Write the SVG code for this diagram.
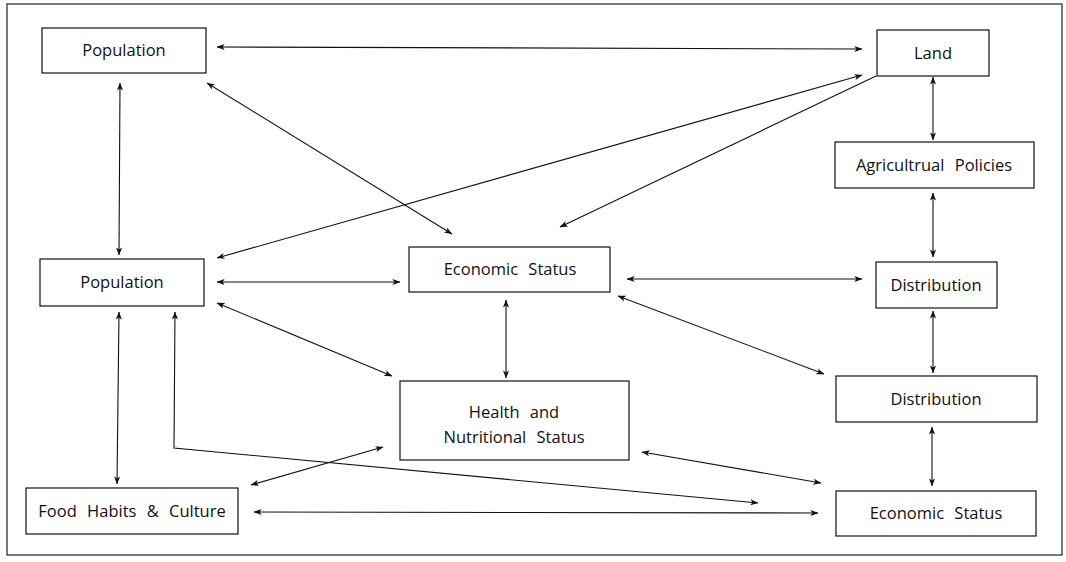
<svg xmlns="http://www.w3.org/2000/svg" width="1066" height="562" viewBox="0 0 1066 562">
<style>
.box{fill:#fff;stroke:#111;stroke-width:1.2}
.lbl{font-family:"Open Sans","Liberation Sans",sans-serif;font-size:16.5px;fill:#111;text-anchor:middle;word-spacing:6px}
.c{fill:none;stroke:#111;stroke-width:1.1}
.frame{fill:none;stroke:#222;stroke-width:1.2}
</style>
<defs>
<marker id="ah" viewBox="0 0 10 10" refX="9.5" refY="5" markerWidth="8" markerHeight="8" markerUnits="userSpaceOnUse" orient="auto-start-reverse">
<path d="M0,1.2 L10,5 L0,8.8 L2.5,5 Z" fill="#111"/>
</marker>
</defs>
<rect class="frame" x="7" y="4" width="1055" height="551"/>
<g id="connectors">
<line class="c" x1="217" y1="47" x2="862" y2="49" marker-start="url(#ah)" marker-end="url(#ah)"/>
<line class="c" x1="207" y1="83" x2="452" y2="234" marker-start="url(#ah)" marker-end="url(#ah)"/>
<line class="c" x1="120" y1="83" x2="119" y2="255" marker-start="url(#ah)" marker-end="url(#ah)"/>
<line class="c" x1="862" y1="75" x2="217" y2="258" marker-start="url(#ah)" marker-end="url(#ah)"/>
<line class="c" x1="876" y1="76" x2="560" y2="227" marker-end="url(#ah)"/>
<line class="c" x1="933" y1="77" x2="933" y2="140" marker-start="url(#ah)" marker-end="url(#ah)"/>
<line class="c" x1="933" y1="193" x2="933" y2="257" marker-start="url(#ah)" marker-end="url(#ah)"/>
<line class="c" x1="217" y1="282" x2="400" y2="282" marker-start="url(#ah)" marker-end="url(#ah)"/>
<line class="c" x1="627" y1="279" x2="862" y2="279" marker-start="url(#ah)" marker-end="url(#ah)"/>
<line class="c" x1="618" y1="296" x2="824" y2="374" marker-start="url(#ah)" marker-end="url(#ah)"/>
<line class="c" x1="506" y1="300" x2="506" y2="378" marker-start="url(#ah)" marker-end="url(#ah)"/>
<line class="c" x1="217" y1="303" x2="392" y2="376" marker-start="url(#ah)" marker-end="url(#ah)"/>
<line class="c" x1="119" y1="312" x2="117" y2="484" marker-start="url(#ah)" marker-end="url(#ah)"/>
<path class="c" d="M175,312 L174,448 L758,503" marker-start="url(#ah)" marker-end="url(#ah)"/>
<line class="c" x1="251" y1="485" x2="383" y2="447" marker-start="url(#ah)" marker-end="url(#ah)"/>
<line class="c" x1="642" y1="452" x2="821" y2="483" marker-start="url(#ah)" marker-end="url(#ah)"/>
<line class="c" x1="254" y1="512" x2="818" y2="513" marker-start="url(#ah)" marker-end="url(#ah)"/>
<line class="c" x1="933" y1="311" x2="933" y2="373" marker-start="url(#ah)" marker-end="url(#ah)"/>
<line class="c" x1="932" y1="427" x2="932" y2="486" marker-start="url(#ah)" marker-end="url(#ah)"/>
</g>
<g id="population-top"><rect class="box" x="42" y="28" width="164" height="45"/><text class="lbl" x="124" y="56">Population</text></g>
<g id="land"><rect class="box" x="877" y="30" width="112" height="46"/><text class="lbl" x="933" y="59">Land</text></g>
<g id="agricultural-policies"><rect class="box" x="835" y="142" width="199" height="46"/><text class="lbl" x="934" y="171">Agricultrual Policies</text></g>
<g id="population-mid"><rect class="box" x="40" y="259" width="164" height="47"/><text class="lbl" x="122" y="288">Population</text></g>
<g id="economic-status-mid"><rect class="box" x="409" y="247" width="201" height="45"/><text class="lbl" x="510" y="275">Economic Status</text></g>
<g id="distribution-upper"><rect class="box" x="876" y="262" width="121" height="46"/><text class="lbl" x="936" y="291">Distribution</text></g>
<g id="distribution-lower"><rect class="box" x="836" y="376" width="201" height="46"/><text class="lbl" x="936" y="405">Distribution</text></g>
<g id="health"><rect class="box" x="400" y="381" width="229" height="79"/><text class="lbl" x="514" y="418">Health and</text><text class="lbl" x="514" y="443">Nutritional Status</text></g>
<g id="food-habits"><rect class="box" x="26" y="488" width="212" height="46"/><text class="lbl" x="132" y="517">Food Habits &amp; Culture</text></g>
<g id="economic-status-bottom"><rect class="box" x="836" y="491" width="200" height="45"/><text class="lbl" x="936" y="519">Economic Status</text></g>
</svg>
